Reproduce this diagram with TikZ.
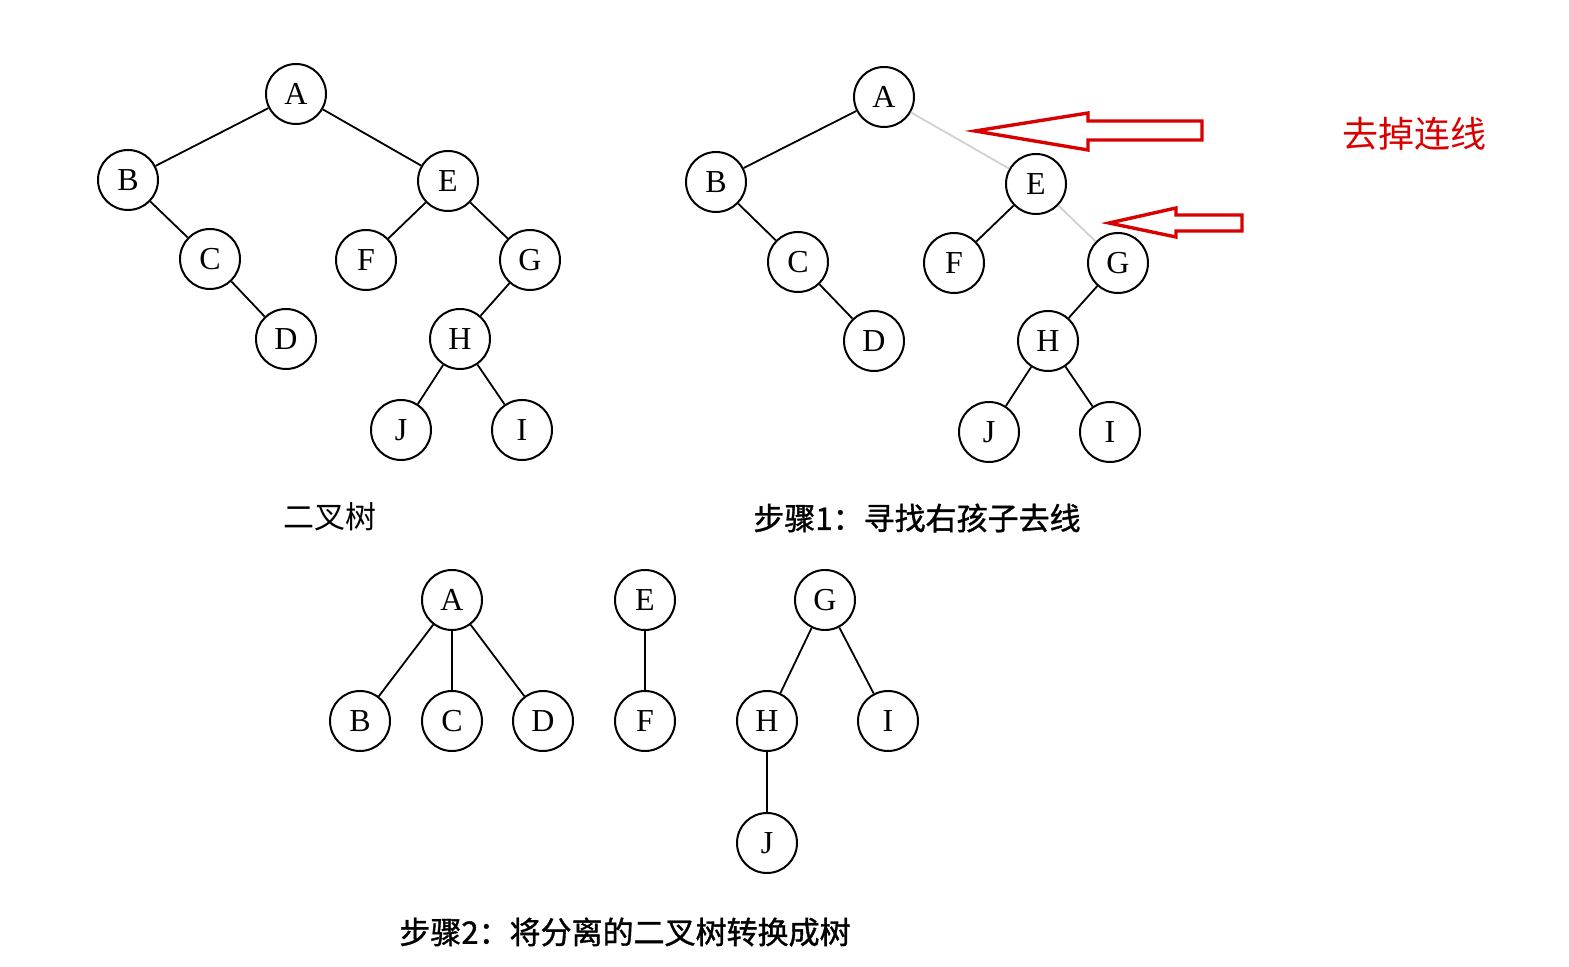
\documentclass[tikz,border=0pt]{standalone}
\usepackage{fontspec}
\setmainfont{Liberation Serif}
\newfontfamily\cjk{Noto Sans CJK SC}
\newfontfamily\cjkb[FakeBold=1.2]{Noto Sans CJK SC}
\begin{document}
\begin{tikzpicture}[x=0.5pt,y=-0.5pt,
  tn/.style={draw,circle,line width=1pt,minimum size=30pt,inner sep=0pt,font=\fontsize{16}{16}\selectfont},
  edge/.style={line width=0.9pt},
  faded/.style={line width=0.9pt,draw=black!18},
  captxt/.style={font=\cjk\fontsize{15.5}{16}\selectfont},
  capbold/.style={font=\cjkb\fontsize{15.5}{16}\selectfont},
  redarrow/.style={draw=red!85!black,line width=1.7pt,line join=miter}]
\useasboundingbox (0,0) rectangle (1569,967);
% tree 1
\node[tn] (a1) at (296,94) {A};
\node[tn] (b1) at (128,180) {B};
\node[tn] (e1) at (448,181) {E};
\node[tn] (c1) at (210,259) {C};
\node[tn] (f1) at (366,260) {F};
\node[tn] (g1) at (530,260) {G};
\node[tn] (d1) at (286,339) {D};
\node[tn] (h1) at (460,339) {H};
\node[tn] (j1) at (401,430) {J};
\node[tn] (i1) at (522,430) {I};
\draw[edge] (a1)--(b1) (a1)--(e1) (b1)--(c1) (c1)--(d1) (e1)--(f1) (e1)--(g1) (g1)--(h1) (h1)--(j1) (h1)--(i1);
\node[captxt] (t1) at (330,517) {二叉树};
% tree 2
\node[tn] (a2) at (884,97) {A};
\node[tn] (b2) at (716,182) {B};
\node[tn] (e2) at (1036,184) {E};
\node[tn] (c2) at (798,262) {C};
\node[tn] (f2) at (954,263) {F};
\node[tn] (g2) at (1118,263) {G};
\node[tn] (d2) at (874,341) {D};
\node[tn] (h2) at (1048,341) {H};
\node[tn] (j2) at (989,432) {J};
\node[tn] (i2) at (1110,432) {I};
\draw[edge] (a2)--(b2) (b2)--(c2) (c2)--(d2) (e2)--(f2) (g2)--(h2) (h2)--(j2) (h2)--(i2);
\draw[faded] (a2)--(e2) (e2)--(g2);
\node[capbold] (t2) at (917,518) {步骤1：寻找右孩子去线};
% red arrows
\draw[redarrow] (975,131) -- (1088,113) -- (1088,121) -- (1202,121) -- (1202,140) -- (1088,140) -- (1088,150) -- cycle;
\draw[redarrow] (1109,223) -- (1176,208) -- (1176,215) -- (1242,215) -- (1242,231) -- (1176,231) -- (1176,237) -- cycle;
\node[font=\cjk\fontsize{18}{18}\selectfont,text=red!85!black] (rl) at (1414,134) {去掉连线};
% tree 3
\node[tn] (a3) at (452,600) {A};
\node[tn] (b3) at (360,721) {B};
\node[tn] (c3) at (452,721) {C};
\node[tn] (d3) at (543,721) {D};
\node[tn] (e3) at (645,600) {E};
\node[tn] (f3) at (645,721) {F};
\node[tn] (g3) at (825,600) {G};
\node[tn] (h3) at (767,721) {H};
\node[tn] (i3) at (888,721) {I};
\node[tn] (j3) at (767,843) {J};
\draw[edge] (a3)--(b3) (a3)--(c3) (a3)--(d3) (e3)--(f3) (g3)--(h3) (g3)--(i3) (h3)--(j3);
\node[capbold] (t3) at (625,932) {步骤2：将分离的二叉树转换成树};
\end{tikzpicture}
\end{document}
